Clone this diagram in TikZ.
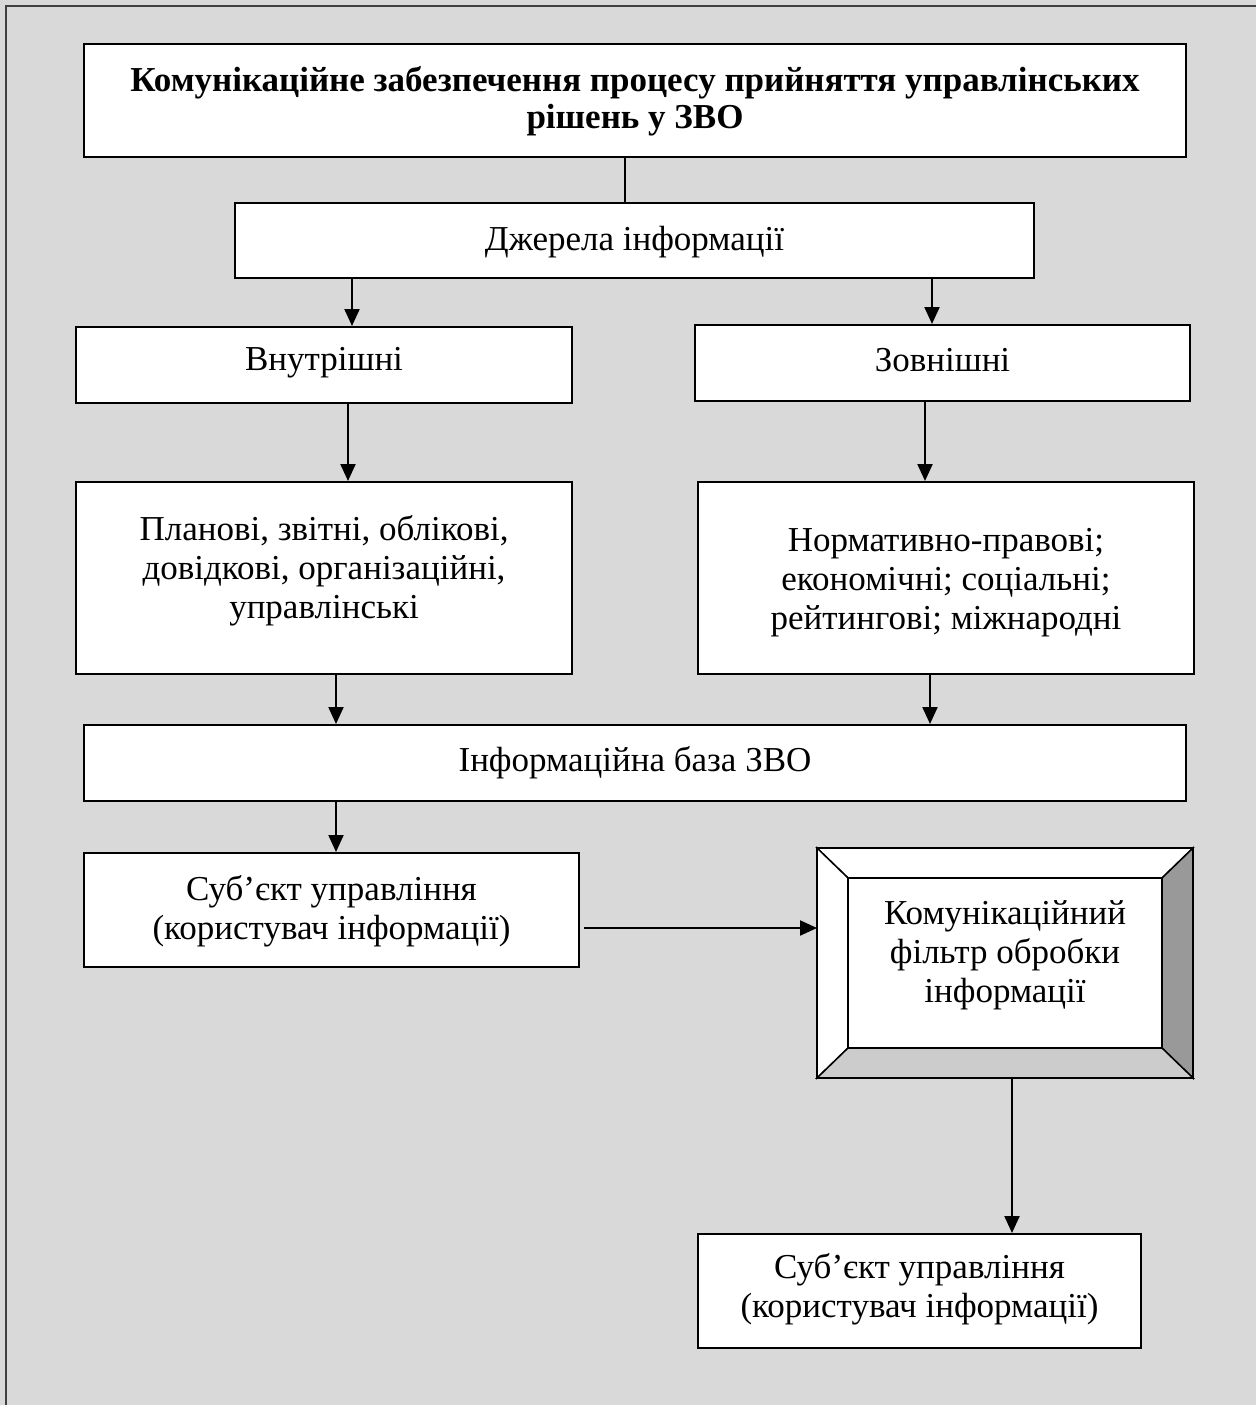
\documentclass[tikz,border=0pt]{standalone}
\usepackage{fontspec}
\setmainfont{Liberation Serif}
\usetikzlibrary{arrows.meta}
\definecolor{pagebg}{HTML}{D9D9D9}
\definecolor{frameline}{HTML}{404040}
\definecolor{bevelside}{HTML}{999999}
\definecolor{bevelbase}{HTML}{CCCCCC}
\tikzset{
  box/.style={draw=black, fill=white, line width=2bp, inner sep=0pt},
  txt/.style={align=center, inner sep=0pt, font=\fontsize{35bp}{39bp}\selectfont},
  link/.style={line width=2bp},
  flow/.style={line width=2.2bp, -{Triangle[length=17bp,width=15bp]}},
  bevel/.style={draw=black, line width=1.5bp, line join=miter},
}
\begin{document}
\begin{tikzpicture}[x=1bp, y=-1bp]
  \useasboundingbox (0,0) rectangle (1256,1405);
  % page background and frame
  \fill[pagebg] (0,0) rectangle (1256,1405);
  \draw[frameline, line width=2bp] (6,1405) -- (6,6) -- (1256,6);

  % boxes
  \node[box, minimum width=1102bp, minimum height=113bp] (title) at (635,100.5) {};
  \node[txt, font=\fontsize{35bp}{37bp}\selectfont\bfseries] at ([yshift=-1bp]title.center)
    {Комунікаційне забезпечення процесу прийняття управлінських\\рішень у ЗВО};

  \node[box, minimum width=799bp, minimum height=75bp] (src) at (634.5,240.5) {};
  \node[txt] at ([yshift=-2bp]src.center) {Джерела інформації};

  \node[box, minimum width=496bp, minimum height=76bp] (inner) at (324,365) {};
  \node[txt] at ([yshift=2bp]inner.center) {Внутрішні};

  \node[box, minimum width=495bp, minimum height=76bp] (outer) at (942.5,363) {};
  \node[txt] at ([yshift=3bp]outer.center) {Зовнішні};

  \node[box, minimum width=496bp, minimum height=192bp] (intkinds) at (324,578) {};
  \node[txt] at ([yshift=7bp]intkinds.center)
    {Планові, звітні, облікові,\\довідкові, організаційні,\\управлінські};

  \node[box, minimum width=496bp, minimum height=192bp] (extkinds) at (946,578) {};
  \node[txt] at ([yshift=-5bp]extkinds.center)
    {Нормативно-правові;\\економічні; соціальні;\\рейтингові; міжнародні};

  \node[box, minimum width=1102bp, minimum height=76bp] (base) at (635,763) {};
  \node[txt] at ([yshift=0bp]base.center) {Інформаційна база ЗВО};

  \node[box, minimum width=495bp, minimum height=114bp] (user) at (331.5,910) {};
  \node[txt] at ([yshift=-1bp]user.center) {Суб’єкт управління\\(користувач інформації)};

  % bevelled filter box
  \node[box, draw=none, fill=none, minimum width=374bp, minimum height=228bp] (filt) at (1005,963) {};
  \node[minimum width=314bp, minimum height=170bp, inner sep=0pt] (filtin) at (1005,963) {};
  \filldraw[bevel, fill=white] (filt.north west) -- (filt.north east) -- (filtin.north east) -- (filtin.north west) -- cycle;
  \filldraw[bevel, fill=white] (filt.north west) -- (filtin.north west) -- (filtin.south west) -- (filt.south west) -- cycle;
  \filldraw[bevel, fill=bevelside] (filt.north east) -- (filt.south east) -- (filtin.south east) -- (filtin.north east) -- cycle;
  \filldraw[bevel, fill=bevelbase] (filt.south west) -- (filtin.south west) -- (filtin.south east) -- (filt.south east) -- cycle;
  \draw[line width=2bp] (filt.north west) rectangle (filt.south east);
  \filldraw[line width=2bp, fill=white] (filtin.north west) rectangle (filtin.south east);
  \node[txt] at ([yshift=8bp]filtin.center)
    {Комунікаційний\\фільтр обробки\\інформації};

  \node[box, minimum width=443bp, minimum height=114bp] (user2) at (919.5,1291) {};
  \node[txt] at ([yshift=2bp]user2.center) {Суб’єкт управління\\(користувач інформації)};

  % connector columns
  \coordinate (c0) at (625,0);
  \coordinate (c1) at (352,0);
  \coordinate (c2) at (932,0);
  \coordinate (c3) at (348,0);
  \coordinate (c4) at (925,0);
  \coordinate (c5) at (336,0);
  \coordinate (c6) at (930,0);
  \coordinate (c7) at (1012,0);
  \coordinate (r1) at (0,928);

  % connectors
  \draw[link] (c0 |- title.south) -- (c0 |- src.north);
  \draw[flow] (c1 |- src.south) -- (c1 |- inner.north);
  \draw[flow] (c2 |- src.south) -- (c2 |- outer.north);
  \draw[flow] (c3 |- inner.south) -- (c3 |- intkinds.north);
  \draw[flow] (c4 |- outer.south) -- (c4 |- extkinds.north);
  \draw[flow] (c5 |- intkinds.south) -- (c5 |- base.north);
  \draw[flow] (c6 |- extkinds.south) -- (c6 |- base.north);
  \draw[flow] (c5 |- base.south) -- (c5 |- user.north);
  \draw[flow, shorten <=4bp] (user.east |- r1) -- (filt.west |- r1);
  \draw[flow] (c7 |- filt.south) -- (c7 |- user2.north);
\end{tikzpicture}
\end{document}
